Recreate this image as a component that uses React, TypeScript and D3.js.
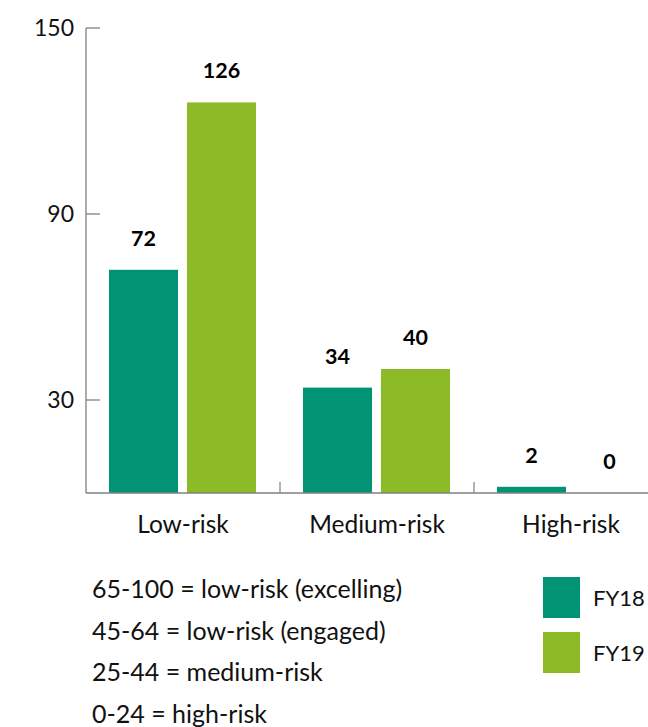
import { scaleBand, scaleLinear } from "d3";

const categories = ["Low-risk", "Medium-risk", "High-risk"];
const seriesNames = ["FY18", "FY19"];
const fy18 = [72, 34, 2];
const fy19 = [126, 40, 0];
const yTicks = [30, 90, 150];
const notes = [
  "65-100 = low-risk (excelling)",
  "45-64 = low-risk (engaged)",
  "25-44 = medium-risk",
  "0-24 = high-risk",
];
const colors = ["#009474", "#8cbb27"];

const font = "Lato, 'Noto Sans', sans-serif";

export default function App() {
  const width = 648;
  const height = 727;
  const margin = { left: 86, top: 28, right: -20, bottom: 234 };
  const baseline = height - margin.bottom;

  const x = scaleBand<string>()
    .domain(categories)
    .range([margin.left, width - margin.right]);
  const inner = scaleBand<string>()
    .domain(seriesNames)
    .range([23, x.bandwidth() - 24])
    .paddingInner(0.115);
  const y = scaleLinear().domain([0, 150]).range([baseline, margin.top]);

  const series = [fy18, fy19];

  return (
    <svg
      width={width}
      height={height}
      style={{ position: "absolute", left: 0, top: 0, fontFamily: font }}
    >
      {/* bars + value labels */}
      {categories.map((c, i) => (
        <g key={c}>
          {series.map((vals, s) => {
            const bx = x(c)! + inner(seriesNames[s])!;
            const by = y(vals[i]);
            return (
              <g key={s}>
                <rect
                  x={bx}
                  y={by}
                  width={inner.bandwidth()}
                  height={baseline - by}
                  fill={colors[s]}
                />
                <text
                  x={bx + inner.bandwidth() / 2}
                  y={by - 24}
                  textAnchor="middle"
                  fontSize={21.5}
                  fontWeight="bold"
                  fill="#000"
                >
                  {vals[i]}
                </text>
              </g>
            );
          })}
        </g>
      ))}

      {/* y axis */}
      <line x1={margin.left} x2={margin.left} y1={y(150)} y2={baseline} stroke="#808080" strokeWidth={1.3} />
      {yTicks.map((t) => (
        <g key={t}>
          <line x1={margin.left} x2={margin.left + 14} y1={y(t)} y2={y(t)} stroke="#808080" strokeWidth={1.3} />
          <text x={margin.left - 12} y={y(t)} dy="0.35em" textAnchor="end" fontSize={23} fill="#111">
            {t}
          </text>
        </g>
      ))}

      {/* x axis */}
      <line x1={margin.left} x2={width - margin.right} y1={baseline} y2={baseline} stroke="#808080" strokeWidth={1.6} />
      {categories.slice(1).map((c) => (
        <line key={c} x1={x(c)!} x2={x(c)!} y1={baseline} y2={baseline - 11} stroke="#808080" strokeWidth={1.2} />
      ))}
      {categories.map((c) => (
        <text key={c} x={x(c)! + x.bandwidth() / 2} y={baseline + 40} textAnchor="middle" fontSize={24.5} fill="#111">
          {c}
        </text>
      ))}

      {/* score notes */}
      {notes.map((n, i) => (
        <text key={n} x={92} y={598 + i * 41.5} fontSize={25} fill="#111">
          {n}
        </text>
      ))}

      {/* legend */}
      {seriesNames.map((s, i) => (
        <g key={s} transform={`translate(543,${577 + i * 55})`}>
          <rect width={37} height={41} fill={colors[i]} />
          <text x={50} y={29} fontSize={22} fill="#111">
            {s}
          </text>
        </g>
      ))}
    </svg>
  );
}
